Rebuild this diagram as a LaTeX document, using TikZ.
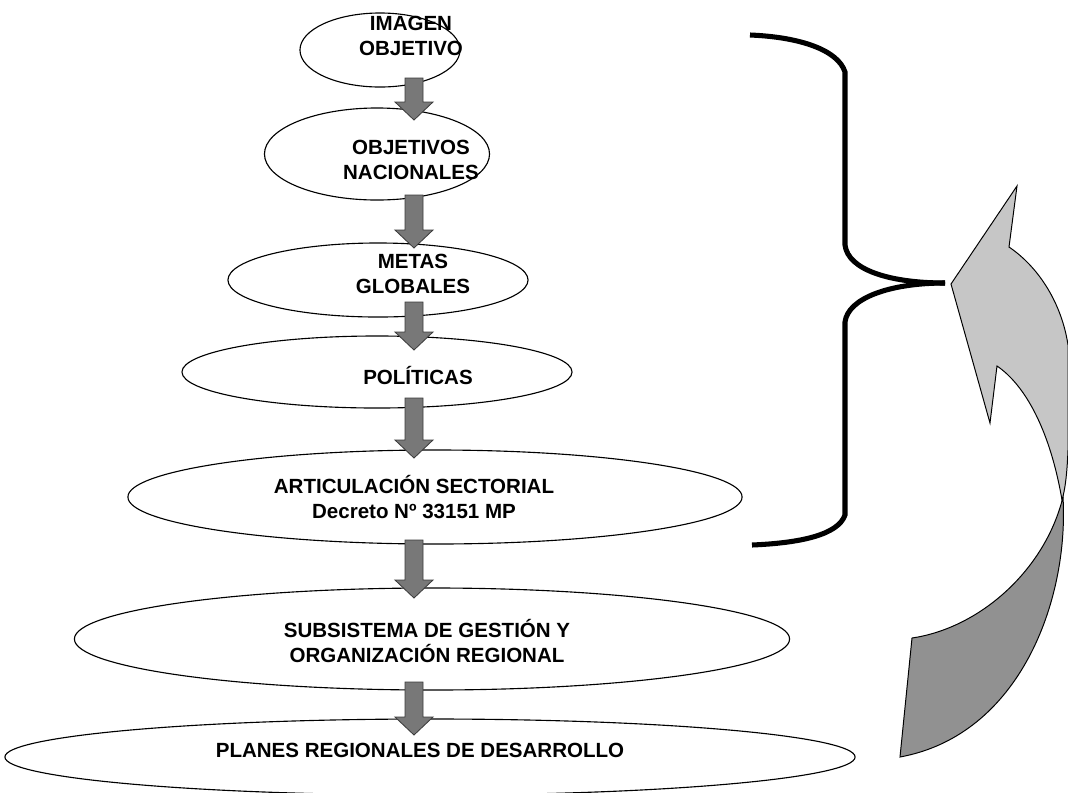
\documentclass[tikz,border=0pt]{standalone}
\usepackage{fontspec}
\setmainfont{Liberation Sans}
\usetikzlibrary{calc,shapes.geometric}
\tikzset{
  ell/.style={ellipse, draw=black, line width=0.8pt, inner sep=0pt},
  lbl/.style={font=\fontsize{14.6}{18.2}\selectfont\bfseries, align=center, inner sep=0pt},
  blk/.style={fill={rgb,255:red,120;green,120;blue,120}, draw={rgb,255:red,60;green,60;blue,60}, line width=0.6pt},
  bracestyle/.style={line width=3.6pt, line cap=butt},
  lightpart/.style={fill={rgb,255:red,198;green,198;blue,198}, draw=black, line width=0.7pt},
  darkpart/.style={fill={rgb,255:red,145;green,145;blue,145}, draw=black, line width=0.7pt}
}
\newcommand\blockarr[2]{%
  \filldraw[blk] let \p1=(#1), \p2=(#2) in
    (\x1-6.4pt,\y1) -- (\x1+6.4pt,\y1) -- (\x1+6.4pt,\y2+12.8pt) -- (\x1+13.5pt,\y2+12.8pt)
    -- (\x1,\y2) -- (\x1-13.5pt,\y2+12.8pt) -- (\x1-6.4pt,\y2+12.8pt) -- cycle;}
\begin{document}
\begin{tikzpicture}[x=0.025cm,y=-0.025cm]
\useasboundingbox (0,0) rectangle (1068,792);
\fill[white] (0,0) rectangle (1068,792);

% ellipses
\node[ell, minimum width=4.0cm,   minimum height=1.85cm] (e1) at (380,50) {};
\node[ell, minimum width=5.625cm, minimum height=2.3cm]  (e2) at (377,154) {};
\node[ell, minimum width=7.5cm,   minimum height=1.85cm] (e3) at (378,280) {};
\node[ell, minimum width=9.75cm,  minimum height=1.8cm]  (e4) at (377,372) {};
\node[ell, minimum width=15.35cm, minimum height=2.35cm] (e5) at (435,497) {};
\node[ell, minimum width=17.875cm,minimum height=2.55cm] (e6) at (432,639) {};
\node[ell, minimum width=21.25cm, minimum height=1.9cm]  (e7) at (430,757) {};

% labels
\node[lbl] (t1) at (411,36)  {IMAGEN\\OBJETIVO};
\node[lbl] (t2) at (411,160) {OBJETIVOS\\NACIONALES};
\node[lbl] (t3) at (413,274) {METAS\\GLOBALES};
\node[lbl] (t4) at (418,375) {POLÍTICAS};
\node[lbl] (t5) at (414,497) {ARTICULACIÓN SECTORIAL\\Decreto Nº 33151 MP};
\node[lbl] (t6) at (427,641) {SUBSISTEMA DE GESTIÓN Y\\ORGANIZACIÓN REGIONAL};
\node[lbl] (t7) at (420,750) {PLANES REGIONALES DE DESARROLLO};

% arrow end points
\coordinate (a1s) at (414,78);  \coordinate (a1e) at (414,120);
\coordinate (a2s) at (414,195); \coordinate (a2e) at (414,248);
\coordinate (a3s) at (414,302); \coordinate (a3e) at (414,350);
\coordinate (a4s) at (414,398); \coordinate (a4e) at (414,458);
\coordinate (a5s) at (414,540); \coordinate (a5e) at (414,598);
\coordinate (a6s) at (414,682); \coordinate (a6e) at (414,735);
\blockarr{a1s}{a1e}
\blockarr{a2s}{a2e}
\blockarr{a3s}{a3e}
\blockarr{a4s}{a4e}
\blockarr{a5s}{a5e}
\blockarr{a6s}{a6e}

% brace
\coordinate (btop) at (750,35);
\coordinate (btip) at (945,283);
\coordinate (bbot) at (752,545);
\draw[bracestyle] (btop) .. controls (800,37) and (838,50) .. (845,72) -- (845,245)
  .. controls (848,270) and (890,283) .. (btip);
\draw[bracestyle] (btip) .. controls (890,283) and (848,298) .. (845,322) -- (845,515)
  .. controls (838,535) and (800,543) .. (bbot);

% curved return arrow
\filldraw[darkpart] (1063,497) .. controls (1069,600) and (1020,735) .. (900,757)
  -- (912,638) .. controls (980,628) and (1045,570) .. cycle;
\filldraw[lightpart] (1017,186) -- (1009,247) .. controls (1040,268) and (1062,305) .. (1068,345)
  -- (1068,450) .. controls (1067,475) and (1065,490) .. (1062,500)
  .. controls (1050,430) and (1025,385) .. (997,366) -- (990,423) -- (951,284) -- cycle;
\end{tikzpicture}
\end{document}
